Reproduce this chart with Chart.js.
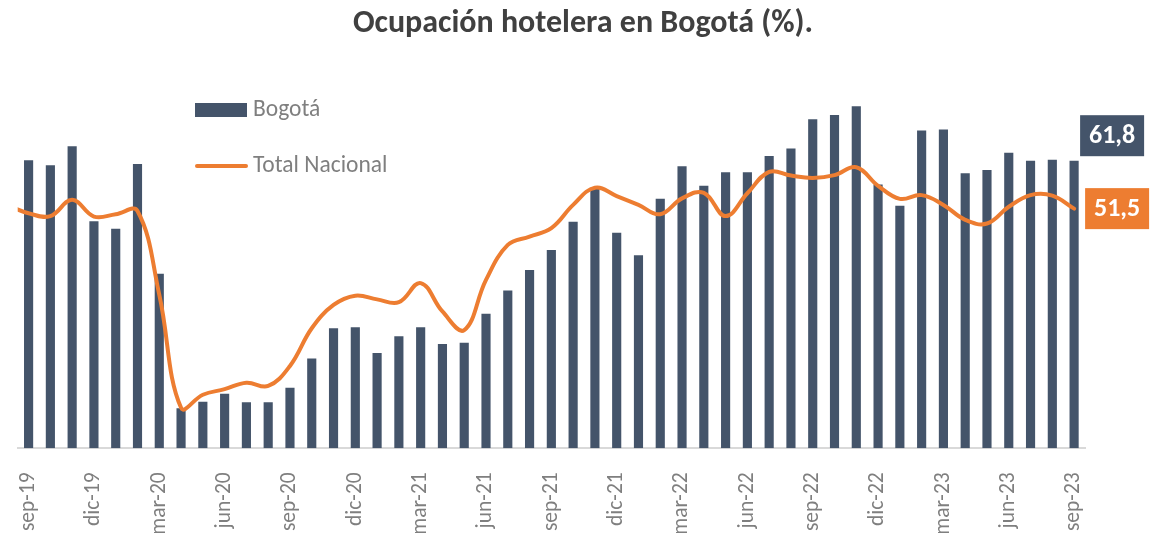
<!DOCTYPE html>
<html><head><meta charset="utf-8">
<script src="https://cdn.jsdelivr.net/npm/chart.js@4.4.1/dist/chart.umd.min.js"></script>
<style>html,body{margin:0;padding:0;background:#fff;}#wrap{width:1168px;height:533px;}</style>
</head><body><div id="wrap"><canvas id="c" width="1168" height="533"></canvas></div>
<script>
// ---- data ----
const categories = ['ago-19','sep-19','oct-19','nov-19','dic-19','ene-20','feb-20','mar-20','abr-20','may-20','jun-20','jul-20','ago-20','sep-20','oct-20','nov-20','dic-20','ene-21','feb-21','mar-21','abr-21','may-21','jun-21','jul-21','ago-21','sep-21','oct-21','nov-21','dic-21','ene-22','feb-22','mar-22','abr-22','may-22','jun-22','jul-22','ago-22','sep-22','oct-22','nov-22','dic-22','ene-23','feb-23','mar-23','abr-23','may-23','jun-23','jul-23','ago-23','sep-23'];
const bogota = [null,61.9,60.8,64.9,48.8,47.2,61.1,37.5,8.6,10.0,11.7,9.9,9.9,13.0,19.3,25.8,26.0,20.5,24.1,26.0,22.4,22.7,28.9,33.9,38.3,42.6,48.7,56.0,46.3,41.5,53.6,60.6,56.4,59.3,59.3,62.8,64.4,70.7,71.6,73.5,56.7,52.1,68.3,68.5,59.1,59.8,63.5,61.8,62.0,61.8];
const totalNacional = [52.3,50.5,49.9,53.4,49.8,50.3,51.0,33.0,8.7,11.5,12.7,14.1,13.4,17.7,25.8,30.8,32.8,32.0,31.4,35.5,29.4,25.4,36.2,43.7,45.5,47.3,52.3,56.0,54.2,52.3,50.3,53.7,54.9,49.9,54.8,59.4,58.6,58.1,58.7,60.4,56.4,53.6,54.4,52.3,49.1,48.3,51.9,54.4,54.3,51.5];
const firstShown = 'sep-19';
const tickMonths = ['sep','dic','mar','jun'];
const seriesNames = ['Bogotá','Total Nacional'];
const titleText = 'Ocupación hotelera en Bogotá (%).';

const BAR_COLOR = '#44546a';
const LINE_COLOR = '#ed7d31';
const GRAY = '#7f7f7f';
const FONT = 'Carlito, Lato, sans-serif';

const fmt = v => v.toFixed(1).replace('.', ',');

const titlePlugin = {
  id: 'customTitle',
  afterDraw(chart) {
    const ctx = chart.ctx;
    ctx.save();
    ctx.fillStyle = '#404040';
    ctx.font = 'bold 32px ' + FONT;
    ctx.textAlign = 'center';
    ctx.textBaseline = 'middle';
    ctx.fillText(titleText, 583, 24);
    ctx.restore();
  }
};

const legendPlugin = {
  id: 'customLegend',
  afterDraw(chart) {
    const ctx = chart.ctx;
    ctx.save();
    ctx.fillStyle = BAR_COLOR;
    ctx.fillRect(195, 103, 52, 14);
    ctx.strokeStyle = LINE_COLOR;
    ctx.lineWidth = 4;
    ctx.lineCap = 'round';
    ctx.beginPath(); ctx.moveTo(197, 166); ctx.lineTo(246, 166); ctx.stroke();
    ctx.fillStyle = GRAY;
    ctx.font = '23.5px ' + FONT;
    ctx.textBaseline = 'middle';
    ctx.textAlign = 'left';
    ctx.fillText(seriesNames[0], 253, 110);
    ctx.fillText(seriesNames[1], 253, 166);
    ctx.restore();
  }
};

const endLabelPlugin = {
  id: 'endLabels',
  afterDatasetsDraw(chart) {
    const ctx = chart.ctx;
    const lineMeta = chart.getDatasetMeta(0);
    const barMeta = chart.getDatasetMeta(1);
    const lp = lineMeta.data[lineMeta.data.length - 1];
    const bp = barMeta.data[barMeta.data.length - 1];
    ctx.save();
    ctx.font = 'bold 26px ' + FONT;
    ctx.textAlign = 'center';
    ctx.textBaseline = 'middle';
    let bx = bp.x + 6, by = bp.y - 45.5;
    ctx.fillStyle = BAR_COLOR;
    ctx.fillRect(bx, by, 64, 41);
    ctx.fillStyle = '#fff';
    ctx.fillText(fmt(bogota[bogota.length - 1]), bx + 32, by + 21.5);
    let lx = lp.x + 11, ly = lp.y - 20.5;
    ctx.fillStyle = LINE_COLOR;
    ctx.fillRect(lx, ly, 64, 41);
    ctx.fillStyle = '#fff';
    ctx.fillText(fmt(totalNacional[totalNacional.length - 1]), lx + 32, ly + 21.5);
    ctx.restore();
  }
};

new Chart(document.getElementById('c'), {
  type: 'bar',
  data: {
    labels: categories,
    datasets: [
      {
        type: 'line', label: seriesNames[1], data: totalNacional,
        borderColor: LINE_COLOR, borderWidth: 4, pointRadius: 0, tension: 0.4,
        borderCapStyle: 'round', borderJoinStyle: 'round', order: 0,
        clip: {left: 0, top: 10, right: 10, bottom: 10}
      },
      {
        type: 'bar', label: seriesNames[0], data: bogota,
        backgroundColor: BAR_COLOR, barPercentage: 0.42, categoryPercentage: 1, order: 1
      }
    ]
  },
  options: {
    responsive: false, animation: false, devicePixelRatio: 1,
    layout: { padding: { left: 17.7, right: 83, top: 76, bottom: 0 } },
    scales: {
      x: {
        min: firstShown, offset: true,
        grid: { display: false },
        border: { color: '#d9d9d9', width: 2 },
        afterFit(scale) { scale.height = 84.7; },
        ticks: {
          autoSkip: false, maxRotation: 90, minRotation: 90, padding: 16,
          color: GRAY, font: { family: FONT, size: 21.5 },
          callback(v) { const l = this.getLabelForValue(v); return tickMonths.includes(l.slice(0, 3)) ? l : ''; }
        }
      },
      y: { display: false, min: 0, max: 80 }
    },
    plugins: {
      legend: { display: false },
      tooltip: { enabled: false },
      title: { display: false }
    }
  },
  plugins: [titlePlugin, legendPlugin, endLabelPlugin]
});
</script>
</body></html>
